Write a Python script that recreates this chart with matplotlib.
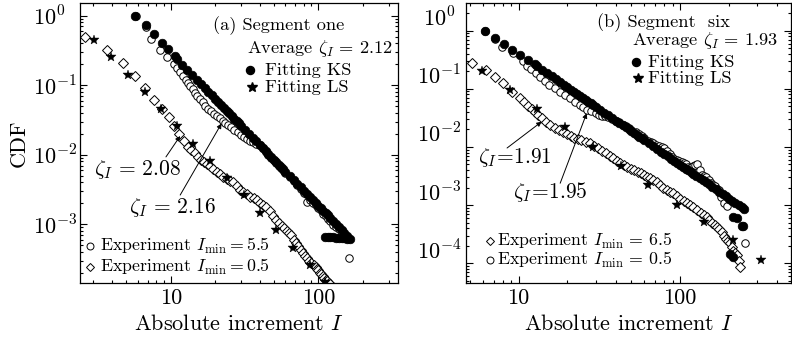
import matplotlib
matplotlib.use("Agg")
import matplotlib.pyplot as plt
from matplotlib.ticker import FixedLocator, FixedFormatter, LogLocator, NullFormatter
from matplotlib.transforms import ScaledTranslation

plt.rcParams.update({
    "font.family": "serif",
    "font.serif": ["cmr10"],
    "mathtext.fontset": "cm",
    "axes.unicode_minus": False,
    "axes.linewidth": 0.9,
})

# ---------------- panel (a): Segment one ----------------
a_ks_x = [5.73, 6.78, 7.7, 8.7, 9.6, 10.7, 11, 12, 13, 14, 15, 16, 17, 18, 19, 20, 21, 22, 23, 24,
          25, 26, 27, 28, 29, 30, 32, 34, 36, 38, 40, 42, 44, 46, 48, 50, 52, 54, 56, 58, 60, 64,
          68, 72, 76, 80, 84, 88, 92, 96, 100, 104, 108, 112, 116, 120, 126, 132, 138, 144, 150,
          157, 164,
          111, 116, 121, 126, 132, 138, 144, 150, 156]
a_ks_y = [1.0, 0.73, 0.55, 0.41, 0.33, 0.26, 0.238, 0.197, 0.165, 0.140, 0.120, 0.1045, 0.0914,
          0.0806, 0.0716, 0.0639, 0.0574, 0.0519, 0.0470, 0.0428, 0.0392, 0.0359, 0.0330, 0.0305,
          0.0282, 0.0262, 0.0227, 0.0199, 0.01755, 0.0156, 0.0139, 0.0125, 0.0113, 0.01023,
          0.0093, 0.00852, 0.0078, 0.00719, 0.0066, 0.00614, 0.0057, 0.00495, 0.00433, 0.00382,
          0.00339, 0.00303, 0.00272, 0.00246, 0.00223, 0.00203, 0.00185, 0.0017, 0.00157,
          0.00144, 0.00134, 0.00124, 0.00111, 0.00101, 0.000913, 0.000831, 0.00076, 0.000687,
          0.000624,
          0.00066, 0.00066, 0.00065, 0.00065, 0.00064, 0.00064, 0.00063, 0.00063, 0.00062]

a_exp_x = [5.8, 6.8, 7.4, 8.5, 9.5, 10.6, 11.1, 11.6, 12.2, 12.7, 13.1, 13.6, 14.1, 14.6, 15.2,
           15.8, 16.5, 17.2, 18, 18.8, 19.6, 20.5, 21.5, 22.5, 23.5, 24.5, 25.7, 27, 28.5, 30,
           31.5, 33, 34.5, 36, 38, 40, 42, 44, 46, 48, 50, 52, 54, 56, 58, 60, 64, 68, 72, 76,
           80, 84, 88, 92, 96, 100, 104, 108, 112, 116, 120, 126, 132, 138, 144, 150, 157, 162]
a_exp_y = [0.98, 0.68, 0.457, 0.32, 0.252, 0.20, 0.178, 0.156, 0.136, 0.119, 0.108, 0.097, 0.087,
           0.078, 0.070, 0.063, 0.057, 0.051, 0.046, 0.042, 0.039, 0.036, 0.0335, 0.031, 0.029,
           0.027, 0.025, 0.023, 0.021, 0.0195, 0.018, 0.0168, 0.0159, 0.0150, 0.0144, 0.0138,
           0.0124, 0.0110, 0.0100, 0.0090, 0.0083, 0.0076, 0.0070, 0.0064, 0.0060, 0.0055,
           0.0048, 0.0042, 0.0037, 0.0032, 0.0028, 0.0021, 0.0022, 0.0020, 0.0019, 0.0017,
           0.00162, 0.0014, 0.0013, 0.00118, 0.0011, 0.00098, 0.0009, 0.00085, 0.00076, 0.0007,
           0.00066, 0.00033]

a_dia_x = [2.63, 3.72, 4.75, 5.73, 6.75, 7.75, 8.7, 9.7, 10.6, 11.4, 12.3, 13.1, 13.8, 14.6, 15.3,
           16, 16.7, 17.5, 18.5, 19.5, 20.5, 21.6, 22.8, 24, 25.2, 26.5, 28, 29.5, 31, 33, 34.7,
           36.5, 38.2, 40, 42, 44.6, 47, 49.5, 52, 54.5, 57, 59, 61, 63, 65, 68, 70.5, 73, 76,
           79, 81.5, 84, 87, 90, 93, 96, 98, 100, 102.5, 105, 107.5, 110, 112.5, 115, 117.5, 120]
a_dia_y = [0.489, 0.325, 0.208, 0.136, 0.092, 0.061, 0.045, 0.0345, 0.0255, 0.020, 0.016, 0.0131,
           0.0118, 0.0105, 0.0094, 0.0084, 0.0079, 0.0074, 0.0068, 0.0063, 0.0057, 0.0052,
           0.0048, 0.0045, 0.0042, 0.0040, 0.0035, 0.0031, 0.0029, 0.0027, 0.0025, 0.0024,
           0.0022, 0.0020, 0.0019, 0.0018, 0.00155, 0.0013, 0.00116, 0.00105, 0.00095, 0.00087,
           0.00080, 0.00075, 0.00070, 0.00060, 0.00054, 0.00048, 0.00043, 0.00038, 0.00035,
           0.00033, 0.00030, 0.00028, 0.00026, 0.00024, 0.00023, 0.00022, 0.00020, 0.00019,
           0.00018, 0.00017, 0.00016, 0.000155, 0.000145, 0.00014]

a_ls_x = [3.03, 3.93, 5.17, 6.7, 8.6, 11.1, 14.2, 18.4, 24.2, 31.4, 40.3, 52, 67.6, 88, 111]
a_ls_y = [0.447, 0.252, 0.14, 0.081, 0.045, 0.026, 0.0143, 0.0082, 0.0047, 0.0026, 0.00146,
          0.00083, 0.00046, 0.00026, 0.000149]

# ---------------- panel (b): Segment six ----------------
b_ks_x = [6.2, 7.15, 8.13, 9.07, 10.2, 11.5, 12.6, 13, 14, 15, 16, 17, 18, 19, 20, 21, 22, 23,
          24, 25, 26, 27, 28, 29, 30, 32, 34, 36, 38, 40, 42, 44, 46, 48, 50, 52, 54, 56, 58,
          60, 64, 68, 72, 76, 80, 84, 88, 92, 96, 100, 104, 108, 112, 116, 120, 126, 132, 138,
          144, 150, 158, 166, 174, 183, 192, 201, 210, 220, 230, 240, 250,
          214, 224, 246, 240, 204, 214]
b_ks_y = [1.0, 0.74, 0.58, 0.466, 0.38, 0.313, 0.27, 0.243, 0.211, 0.19, 0.1636, 0.1457, 0.1305,
          0.1178, 0.1068, 0.0973, 0.0890, 0.0818, 0.0754, 0.0698, 0.0647, 0.0602, 0.0562,
          0.0525, 0.0492, 0.0435, 0.0388, 0.0348, 0.0313, 0.0284, 0.0259, 0.0237, 0.0218,
          0.0201, 0.0186, 0.0172, 0.0160, 0.0149, 0.0140, 0.0131, 0.01158, 0.0103, 0.00925,
          0.00834, 0.00756, 0.00689, 0.0063, 0.00579, 0.00534, 0.00494, 0.00458, 0.00426,
          0.00398, 0.00372, 0.00349, 0.00318, 0.0029, 0.00267, 0.00246, 0.00228, 0.00206,
          0.00188, 0.00171, 0.00156, 0.00142, 0.0013, 0.0012, 0.0011, 0.00101, 0.00093, 0.00086,
          0.00063, 0.00060, 0.00043, 0.00043, 0.000145, 0.00013]

b_exp_x = [6.2, 7.15, 7.94, 9.3, 10.6, 11.3, 12.0, 12.8, 13.5, 14.5, 15.4, 16.7, 18.1, 19.4, 20.8,
           22.3, 24.0, 25.2, 26.4, 28, 30, 31.5, 33, 34.5, 36, 38, 40, 42, 44, 46, 48, 50, 53,
           56, 58, 60, 63, 66, 68, 71, 74, 77, 80, 83, 86, 89, 92, 95, 98, 102, 105, 109, 112,
           116, 120, 124, 128, 132, 136, 140, 145, 150, 155, 160, 165, 170, 175, 180, 186, 196,
           252]
b_exp_y = [1.0, 0.72, 0.53, 0.42, 0.30, 0.25, 0.215, 0.185, 0.157, 0.135, 0.116, 0.104, 0.089,
           0.078, 0.069, 0.060, 0.053, 0.048, 0.043, 0.041, 0.038, 0.036, 0.0345, 0.0335,
           0.0325, 0.030, 0.0285, 0.0265, 0.024, 0.0225, 0.021, 0.0195, 0.018, 0.0165, 0.0155,
           0.0145, 0.0125, 0.012, 0.0115, 0.011, 0.0105, 0.0100, 0.0097, 0.0085, 0.0075,
           0.0068, 0.0062, 0.0060, 0.0058, 0.0056, 0.0054, 0.0050, 0.0046, 0.0046, 0.0048,
           0.0049, 0.0050, 0.0040, 0.0033, 0.0032, 0.0030, 0.0027, 0.0024, 0.0022, 0.0021,
           0.0019, 0.0018, 0.0014, 0.0011, 0.00095, 0.00022]

b_dia_x = [5.13, 6.27, 7.16, 8.06, 9.07, 10.2, 10.8, 11.5, 12.1, 12.6, 13.2, 13.9, 14.8, 15.7,
           16.7, 17.7, 18.8, 19.9, 21, 22, 23.2, 24.5, 26, 27.7, 29.3, 31, 33, 35, 36.7, 38.5,
           40.5, 42.5, 44.7, 47, 49.5, 52, 54.5, 57, 59.5, 62.2, 65, 68, 71.5, 75, 78.8, 82.8,
           86.4, 90, 95, 100, 105, 110, 115, 120, 127.5, 135, 140, 146, 152, 158, 163.5, 169,
           175, 181, 186.5, 192, 198, 204, 209, 214, 219, 224, 230, 236]
b_dia_y = [0.275, 0.211, 0.162, 0.124, 0.089, 0.069, 0.060, 0.051, 0.045, 0.0405, 0.035, 0.031,
           0.027, 0.024, 0.0215, 0.0195, 0.018, 0.0165, 0.0155, 0.0145, 0.0137, 0.013, 0.0123,
           0.0116, 0.0105, 0.0095, 0.0086, 0.0078, 0.0071, 0.0064, 0.0058, 0.00525, 0.0049,
           0.0045, 0.0042, 0.0040, 0.0037, 0.0035, 0.0033, 0.0031, 0.0029, 0.0027, 0.00245,
           0.0022, 0.0020, 0.00182, 0.0017, 0.0016, 0.00145, 0.0013, 0.0012, 0.00108, 0.0010,
           0.00092, 0.00082, 0.00072, 0.00068, 0.00063, 0.00056, 0.0005, 0.00046, 0.000425,
           0.00039, 0.00035, 0.0003, 0.00026, 0.00024, 0.00022, 0.00019, 0.000165, 0.00015,
           0.000139, 0.00011, 0.000085]

b_ls_x = [5.9, 8.86, 13.1, 19.4, 28.8, 42.9, 63.7, 95.5, 140, 212, 317]
b_ls_y = [0.205, 0.096, 0.0445, 0.0218, 0.0101, 0.0047, 0.0022, 0.00100, 0.00051, 0.00025,
          0.000115]

y_exponents_a = [0, -1, -2, -3]
y_exponents_b = [0, -1, -2, -3, -4]

fig = plt.figure(figsize=(7.92, 3.42), dpi=100)
ax1 = fig.add_axes([0.101, 0.1725, 0.4015, 0.8187])
ax2 = fig.add_axes([0.5884, 0.1725, 0.4104, 0.8187])


def style(ax, xlim, ylim):
    ax.set_xscale('log')
    ax.set_yscale('log')
    ax.set_xlim(xlim)
    ax.set_ylim(ylim)
    ax.xaxis.set_major_locator(FixedLocator([10, 100]))
    ax.xaxis.set_major_formatter(FixedFormatter(['10', '100']))
    ax.xaxis.set_minor_locator(LogLocator(base=10, subs=range(2, 10), numticks=20))
    ax.xaxis.set_minor_formatter(NullFormatter())
    ax.yaxis.set_major_locator(LogLocator(base=10, numticks=20))
    ax.yaxis.set_minor_locator(LogLocator(base=10, subs=range(2, 10), numticks=20))
    ax.yaxis.set_major_formatter(NullFormatter())
    ax.yaxis.set_minor_formatter(NullFormatter())
    ax.tick_params(which='both', direction='in', top=True, right=True, width=0.8)
    ax.tick_params(which='major', length=5, labelsize=16, pad=4)
    ax.tick_params(which='minor', length=2.5)
    ax.set_xlabel('Absolute increment $I$', fontsize=16, labelpad=4)


def draw(ax, dx, dy, ex, ey, lx, ly, kx, ky):
    ax.plot(dx, dy, ls='none', marker='D', ms=4.8, mfc='white', mec='black', mew=0.7, zorder=2)
    ax.plot(ex, ey, ls='none', marker='o', ms=5.4, mfc='white', mec='black', mew=0.7, zorder=3)
    ax.plot(lx, ly, ls='none', marker='*', ms=7.5, mfc='black', mec='black', mew=0.3, zorder=4)
    ax.plot(kx, ky, ls='none', marker='o', ms=6.2, mfc='black', mec='black', mew=0.5, zorder=5)


def arrow(ax, head, tail):
    ax.annotate('', xy=head, xytext=tail,
                arrowprops=dict(arrowstyle='-|>', lw=0.7, color='black', mutation_scale=7,
                                shrinkA=0, shrinkB=0), zorder=6)


# ----- panel (a) -----
style(ax1, (2.43, 347), (1.43e-4, 1.52))
draw(ax1, a_dia_x, a_dia_y, a_exp_x, a_exp_y, a_ls_x, a_ls_y, a_ks_x, a_ks_y)
for e in y_exponents_a:
    ax1.text(-0.148, 10.0 ** e, r'$10^{%d}$' % e, transform=ax1.get_yaxis_transform(),
             ha='left', va='center_baseline', fontsize=16)
ax1.set_ylabel('CDF', fontsize=16, labelpad=33)

tk = dict(transform=ax1.transAxes, fontsize=13.2, va='center', ha='left')
ax1.text(0.418, 0.918, '(a) Segment one', **tk)
ax1.text(0.525, 0.839, r'Average $\zeta_I\,=\,2.12$', **tk)
ax1.plot([0.535], [0.761], 'o', ms=5.8, color='black', transform=ax1.transAxes, clip_on=False)
ax1.text(0.582, 0.761, 'Fitting KS', **tk)
ax1.plot([0.541], [0.700], '*', ms=7.5, color='black', transform=ax1.transAxes, clip_on=False)
ax1.text(0.582, 0.700, 'Fitting LS', **tk)
tb = dict(transform=ax1.transAxes, fontsize=12.8, va='center', ha='left')
ax1.plot([0.031], [0.131], 'o', ms=5, mfc='white', mec='black', mew=0.7, transform=ax1.transAxes)
ax1.text(0.062, 0.131, r'Experiment $I_{\rm min}{=}5.5$', **tb)
ax1.plot([0.031], [0.056], 'D', ms=4.3, mfc='white', mec='black', mew=0.7, transform=ax1.transAxes)
ax1.text(0.062, 0.056, r'Experiment $I_{\rm min}{=}0.5$', **tb)

ax1.text(0.181, 0.404, r'$\zeta_I\,=\,2.08$', transform=ax1.transAxes, fontsize=15.5,
         ha='center', va='center')
ax1.text(0.291, 0.268, r'$\zeta_I\,=\,2.16$', transform=ax1.transAxes, fontsize=15.5,
         ha='center', va='center')
arrow(ax1, (11.6, 0.0186), (9.29, 0.0093))
arrow(ax1, (22.1, 0.0281), (11.6, 0.00263))

# ----- panel (b) -----
style(ax2, (4.73, 486), (4.58e-5, 2.99))
draw(ax2, b_dia_x, b_dia_y, b_exp_x, b_exp_y, b_ls_x, b_ls_y, b_ks_x, b_ks_y)
shift = ScaledTranslation(0, 0.14, fig.dpi_scale_trans)
for e in y_exponents_b:
    ax2.text(-0.083, 10.0 ** e, r'$10^{%d}$' % e, transform=ax2.get_yaxis_transform() + shift,
             ha='center', va='center_baseline', fontsize=16)

tk2 = dict(transform=ax2.transAxes, fontsize=13.2, va='center', ha='left')
ax2.text(0.403, 0.929, '(b) Segment  six', **tk2)
ax2.text(0.511, 0.866, r'Average $\zeta_I\,=\,1.93$', **tk2)
ax2.plot([0.523], [0.789], 'o', ms=5.8, color='black', transform=ax2.transAxes, clip_on=False)
ax2.text(0.56, 0.789, 'Fitting KS', **tk2)
ax2.plot([0.529], [0.732], '*', ms=7.5, color='black', transform=ax2.transAxes, clip_on=False)
ax2.text(0.56, 0.732, 'Fitting LS', **tk2)
tb2 = dict(transform=ax2.transAxes, fontsize=12.8, va='center', ha='left')
ax2.plot([0.074], [0.150], 'D', ms=4.3, mfc='white', mec='black', mew=0.7, transform=ax2.transAxes)
ax2.text(0.096, 0.150, r'Experiment $I_{\rm min}\,=\,6.5$', **tb2)
ax2.plot([0.074], [0.083], 'o', ms=5, mfc='white', mec='black', mew=0.7, transform=ax2.transAxes)
ax2.text(0.096, 0.083, r'Experiment $I_{\rm min}\,=\,0.5$', **tb2)

ax2.text(0.149, 0.45, r'$\zeta_I\!=\!1.91$', transform=ax2.transAxes, fontsize=15.5,
         ha='center', va='center')
ax2.text(0.26, 0.325, r'$\zeta_I\!=\!1.95$', transform=ax2.transAxes, fontsize=15.5,
         ha='center', va='center')
arrow(ax2, (13.9, 0.0272), (8.49, 0.0096))
arrow(ax2, (26.4, 0.038), (18.1, 0.00238))

fig.savefig('out.png', dpi=100)
